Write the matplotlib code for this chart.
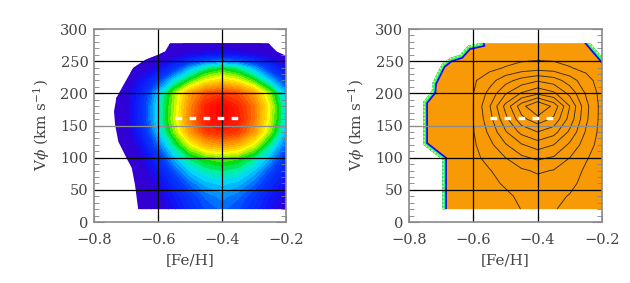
import numpy as np
import matplotlib
matplotlib.use("Agg")
import matplotlib.pyplot as plt
from matplotlib.colors import LinearSegmentedColormap
from matplotlib.patches import Polygon
from matplotlib.ticker import MultipleLocator

plt.rcParams['font.family'] = ['DejaVu Serif']
plt.rcParams['mathtext.fontset'] = 'dejavuserif'
plt.rcParams['lines.scale_dashes'] = False

# grid nodes ([Fe/H] columns, V_phi rows)
feh = [-0.80, -0.75, -0.70, -0.65, -0.60, -0.55, -0.50, -0.45, -0.40, -0.35, -0.30, -0.25, -0.20]
vphi = [20, 40, 60, 80, 100, 120, 140, 160, 180, 200, 220, 240, 260, 280]

# left panel: relative density (0 = outer violet, 1 = red peak), one row per vphi
density = [
    [0.10, 0.10, 0.10, 0.12, 0.15, 0.21, 0.29, 0.35, 0.38, 0.35, 0.29, 0.21, 0.16],
    [0.10, 0.10, 0.10, 0.12, 0.17, 0.24, 0.32, 0.38, 0.41, 0.38, 0.32, 0.24, 0.18],
    [0.10, 0.10, 0.10, 0.13, 0.20, 0.29, 0.38, 0.44, 0.46, 0.44, 0.38, 0.29, 0.21],
    [0.10, 0.10, 0.11, 0.15, 0.24, 0.36, 0.46, 0.51, 0.53, 0.51, 0.45, 0.35, 0.25],
    [0.10, 0.10, 0.12, 0.18, 0.30, 0.44, 0.54, 0.59, 0.61, 0.59, 0.53, 0.43, 0.30],
    [0.10, 0.10, 0.13, 0.22, 0.38, 0.53, 0.66, 0.75, 0.78, 0.75, 0.66, 0.52, 0.37],
    [0.10, 0.11, 0.15, 0.27, 0.45, 0.61, 0.78, 0.89, 0.92, 0.89, 0.78, 0.62, 0.44],
    [0.10, 0.12, 0.16, 0.30, 0.48, 0.64, 0.81, 0.94, 0.99, 0.94, 0.82, 0.65, 0.47],
    [0.10, 0.12, 0.16, 0.30, 0.48, 0.63, 0.80, 0.93, 1.00, 0.92, 0.82, 0.66, 0.47],
    [0.10, 0.12, 0.17, 0.28, 0.45, 0.62, 0.77, 0.86, 0.89, 0.86, 0.77, 0.62, 0.44],
    [0.10, 0.10, 0.15, 0.22, 0.33, 0.47, 0.58, 0.67, 0.71, 0.67, 0.58, 0.45, 0.32],
    [0.10, 0.10, 0.12, 0.15, 0.20, 0.30, 0.42, 0.51, 0.55, 0.51, 0.42, 0.30, 0.20],
    [0.10, 0.10, 0.10, 0.12, 0.14, 0.16, 0.19, 0.22, 0.24, 0.22, 0.19, 0.16, 0.13],
    [0.10, 0.10, 0.10, 0.10, 0.10, 0.10, 0.10, 0.10, 0.10, 0.10, 0.10, 0.10, 0.10],
]

# right panel: contoured quantity
contour_field = [
    [0.05, 0.10, 0.20, 0.30, 0.40, 0.50, 0.70, 1.02, 1.10, 1.05, 0.80, 0.50, 0.30],
    [0.05, 0.10, 0.20, 0.30, 0.40, 0.55, 0.85, 1.15, 1.30, 1.20, 0.95, 0.60, 0.35],
    [0.05, 0.10, 0.20, 0.35, 0.50, 0.80, 1.10, 1.45, 1.60, 1.50, 1.20, 0.75, 0.40],
    [0.05, 0.10, 0.25, 0.40, 0.60, 0.95, 1.40, 1.85, 2.15, 1.95, 1.50, 0.85, 0.45],
    [0.05, 0.12, 0.25, 0.45, 0.75, 1.30, 2.00, 2.80, 3.20, 2.90, 2.00, 1.10, 0.50],
    [0.05, 0.12, 0.30, 0.50, 0.85, 1.70, 2.90, 3.90, 4.50, 4.00, 2.80, 1.50, 0.55],
    [0.05, 0.13, 0.30, 0.55, 0.95, 2.20, 3.90, 5.30, 6.00, 5.40, 3.80, 1.90, 0.60],
    [0.05, 0.15, 0.35, 0.60, 1.00, 2.60, 4.70, 6.70, 7.60, 6.80, 4.60, 2.20, 0.62],
    [0.05, 0.15, 0.35, 0.65, 1.00, 2.90, 5.30, 7.60, 9.20, 7.70, 5.00, 2.30, 0.62],
    [0.05, 0.15, 0.35, 0.60, 0.98, 2.30, 3.90, 5.10, 5.80, 5.20, 3.70, 1.90, 0.60],
    [0.05, 0.12, 0.30, 0.50, 0.85, 1.60, 2.60, 3.40, 3.90, 3.50, 2.50, 1.40, 0.50],
    [0.05, 0.10, 0.20, 0.30, 0.45, 0.70, 1.05, 1.35, 1.50, 1.40, 1.05, 0.70, 0.35],
    [0.05, 0.08, 0.12, 0.20, 0.30, 0.40, 0.50, 0.58, 0.60, 0.58, 0.50, 0.40, 0.30],
    [0.05, 0.05, 0.08, 0.10, 0.15, 0.20, 0.25, 0.28, 0.30, 0.28, 0.25, 0.20, 0.15],
]
contour_levels = [1, 2, 3, 4, 5, 6, 7, 8]

# outline of the populated region, left panel
left_outline_feh = [-0.662, -0.672, -0.682, -0.698, -0.724, -0.734, -0.7375, -0.73, -0.708,
                    -0.677, -0.64, -0.599, -0.578, -0.5625, -0.255, -0.229, -0.198, -0.19, -0.19]
left_outline_vphi = [20, 58, 84, 99, 125, 151, 172, 193, 213,
                     240, 252, 260, 265, 278, 278, 265, 258, 256, 20]

# outline of the populated region, right panel
right_outline_feh = [-0.696, -0.696, -0.755, -0.755, -0.729, -0.727, -0.698, -0.672, -0.641,
                     -0.616, -0.579, -0.237, -0.201, -0.19, -0.19]
right_outline_vphi = [20, 97, 120, 187, 203, 216, 245, 255, 260,
                      274, 278, 278, 257, 250, 20]
# edge segments drawn with the coloured border
edge_left_feh = right_outline_feh[:11]
edge_left_vphi = right_outline_vphi[:11]
edge_right_feh = right_outline_feh[11:14]
edge_right_vphi = right_outline_vphi[11:14]

# mean V_phi dashed line
mean_feh = [-0.548, -0.349]
mean_vphi = [162, 162]

xticks = [-0.8, -0.6, -0.4, -0.2]
yticks = [0, 50, 100, 150, 200, 250, 300]

cmap = LinearSegmentedColormap.from_list('rainbow_idl', [
    (0.00, '#3c00c4'), (0.17, '#3000d6'), (0.22, '#1010f4'), (0.35, '#0044ff'),
    (0.42, '#00a0ff'), (0.47, '#00e0f8'), (0.52, '#00f09a'), (0.57, '#00de10'),
    (0.62, '#8cf000'), (0.67, '#ffff00'), (0.73, '#ffc400'), (0.80, '#ff8c00'),
    (0.87, '#ff4a00'), (0.94, '#ff1800'), (1.00, '#ff0000')])

fig = plt.figure(figsize=(6.3, 2.83), dpi=100)
ax1 = fig.add_axes([0.1492, 0.2155, 0.3048, 0.682])
ax2 = fig.add_axes([0.6492, 0.2155, 0.3063, 0.682])

# left: filled density
region1 = Polygon(np.column_stack([left_outline_feh, left_outline_vphi]), closed=True,
                  facecolor='none', edgecolor='none')
ax1.add_patch(region1)
cs = ax1.contourf(feh, vphi, density, levels=np.linspace(0.06, 1.0, 37), cmap=cmap,
                  vmin=0, vmax=1, extend='both', zorder=1)
cs.set_clip_path(region1)

# right: orange region, coloured border, contour lines
region2 = Polygon(np.column_stack([right_outline_feh, right_outline_vphi]), closed=True,
                  facecolor='#f79a06', edgecolor='none', zorder=1)
ax2.add_patch(region2)
for ex, ey in [(edge_left_feh, edge_left_vphi), (edge_right_feh, edge_right_vphi)]:
    for col, lw, ls in [('#1e00f0', 6.4, '-'), ('#00e0ff', 4.0, '-'),
                        ('#40ff30', 3.1, '-'), ('#ffffb0', 1.9, ':')]:
        ln, = ax2.plot(ex, ey, color=col, lw=lw, ls=ls, zorder=2, solid_joinstyle='miter')
        ln.set_clip_path(region2)
ax2.contour(feh, vphi, contour_field, levels=contour_levels, colors='#3a2a12',
            linewidths=0.65, zorder=3)

for ax in (ax1, ax2):
    for v in yticks[1:-1]:
        ax.axhline(v, color='#8c8c8c' if v == 150 else 'black', lw=0.9, zorder=4)
    for v in xticks[1:-1]:
        ax.axvline(v, color='black', lw=0.9, zorder=4)
    ax.plot(mean_feh, mean_vphi, color='white', lw=2.4, dashes=(4.8, 5.3), zorder=5)

    ax.set_xlim(-0.8, -0.2)
    ax.set_ylim(0, 300)
    ax.set_xticks(xticks)
    ax.set_yticks(yticks)
    ax.yaxis.set_minor_locator(MultipleLocator(10))
    ax.tick_params(which='both', direction='in', right=True, top=False,
                   color='#808080', labelcolor='#444444', labelsize=10.5)
    ax.tick_params(axis='y', which='major', length=7, pad=4)
    ax.tick_params(axis='y', which='minor', length=3.5)
    ax.tick_params(axis='x', which='major', length=5, pad=8)
    for s in ax.spines.values():
        s.set_color('#8a8a8a')
        s.set_linewidth(1.2)
        s.set_zorder(6)
    ax.set_xlabel('[Fe/H]', fontsize=11, color='#444444', labelpad=4)
    ax.set_ylabel(r'V$\phi$ (km s$^{-1}$)', fontsize=11, color='#444444', labelpad=6)

fig.savefig('out.png', dpi=100)
